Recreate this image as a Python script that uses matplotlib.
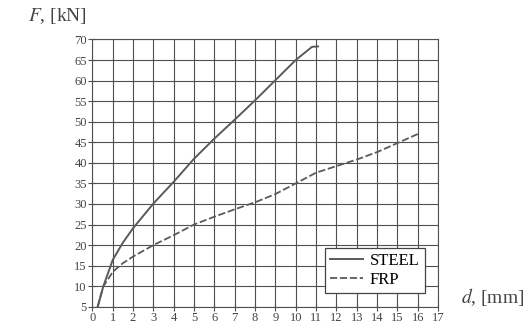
import matplotlib
matplotlib.use("Agg")
import matplotlib.pyplot as plt

# load-deflection data
steel_d = [0.26, 0.54, 1, 1.5, 2, 3, 4, 5, 6, 7, 8, 9, 10, 10.5, 10.8, 11.1]
steel_F = [5, 10, 16.4, 20.6, 24.1, 30.1, 35.4, 41.0, 45.9, 50.5, 55.2, 60.1, 65.0, 67.0, 68.2, 68.3]

frp_d = [0.26, 0.54, 0.85, 1, 1.5, 2, 3, 4, 5, 6, 7, 8, 9, 10, 11, 12, 13, 14, 15, 16, 16.1]
frp_F = [5, 10, 12.3, 13.5, 15.6, 17.2, 20.0, 22.4, 25.0, 26.9, 28.7, 30.4, 32.4, 35.0, 37.6, 39.2, 40.8, 42.6, 44.8, 47.0, 47.2]

x_ticks = list(range(0, 18))
y_ticks = list(range(5, 71, 5))

plt.rcParams['font.family'] = ['Liberation Serif', 'DejaVu Serif']
plt.rcParams['mathtext.fontset'] = 'stix'

fig = plt.figure(figsize=(5.31, 3.26), dpi=100)
ax = fig.add_axes([0.174, 0.059, 0.651, 0.820])

line_col = '#5a5a5a'
ax.plot(steel_d, steel_F, color=line_col, lw=1.4, label='STEEL')
ax.plot(frp_d, frp_F, color=line_col, lw=1.3, ls=(0, (4, 1.5)), label='FRP')

ax.set_xlim(0, 17)
ax.set_ylim(5, 70)
ax.set_xticks(x_ticks)
ax.set_yticks(y_ticks)
ax.grid(True, color='#505050', lw=0.8)
ax.tick_params(direction='inout', length=6, width=0.8, color='#505050',
               labelsize=9, labelcolor='#444444', pad=1)
for s in ax.spines.values():
    s.set_color('#505050')
    s.set_linewidth(0.8)

leg = ax.legend(loc='lower right', bbox_to_anchor=(0.985, 0.02), fontsize=12,
                handlelength=2.0, fancybox=False, framealpha=1, borderpad=0.3,
                labelspacing=0.2, handletextpad=0.4)
leg.get_frame().set_edgecolor('#444444')
leg.get_frame().set_linewidth(0.9)

fig.text(0.053, 0.95, r'$F$, [kN]', fontsize=14, color='#444444', va='center')
fig.text(0.868, 0.09, r'$d$, [mm]', fontsize=14, color='#444444', va='center')

fig.savefig('out.png', dpi=100)
